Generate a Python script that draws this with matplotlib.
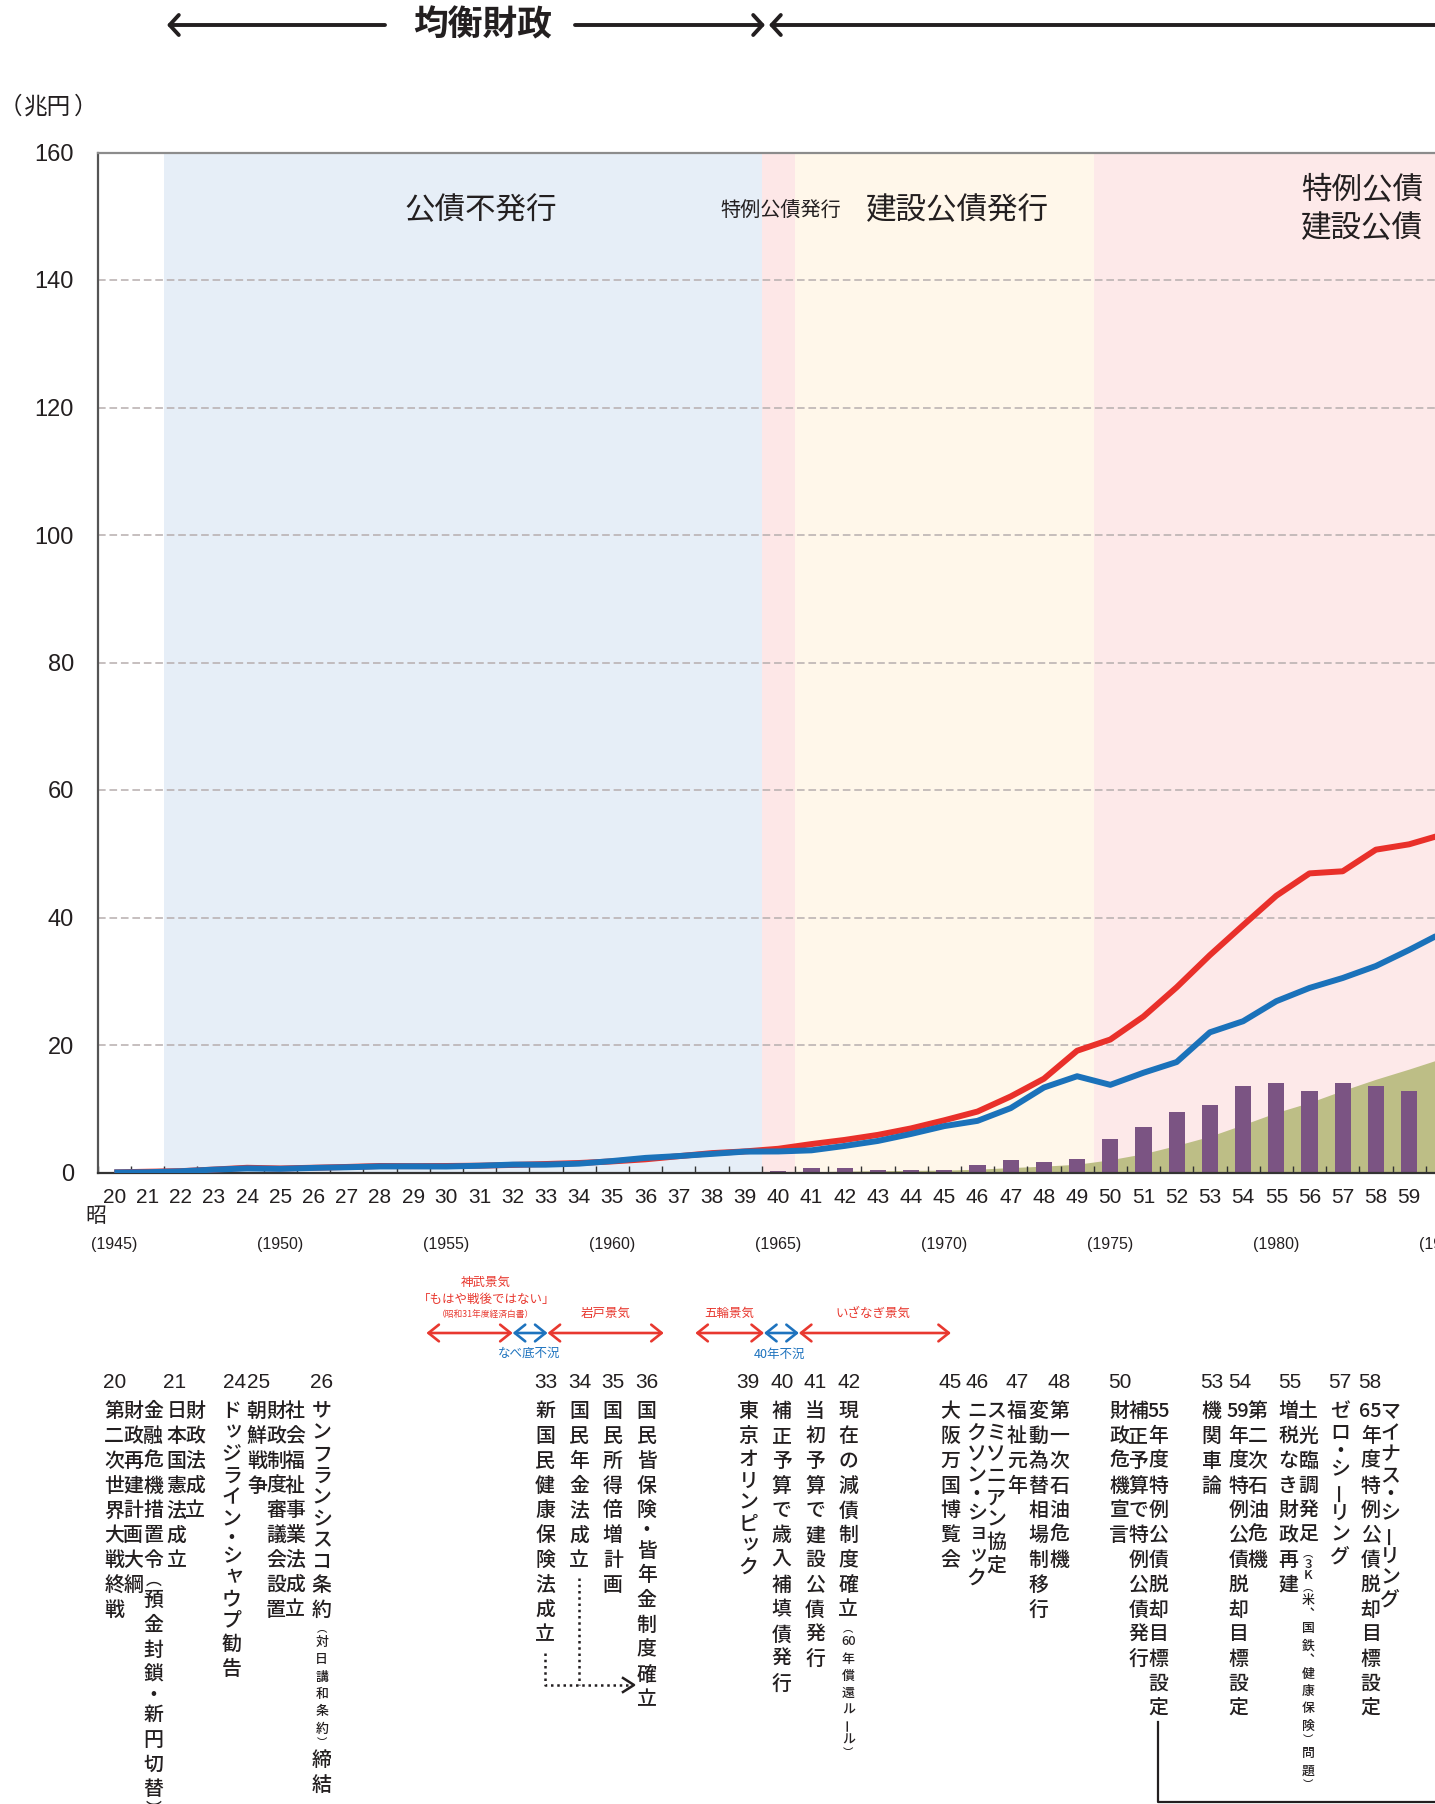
import numpy as np
import matplotlib
matplotlib.use("Agg")
import matplotlib.pyplot as plt
from matplotlib import transforms
from matplotlib.patches import FancyArrowPatch
from matplotlib.lines import Line2D

plt.rcParams["font.family"] = ["Noto Sans CJK JP", "DejaVu Sans"]

# ---------------- data (兆円, 昭和年度) ----------------
years = list(range(20, 61))
expenditure = [0.02, 0.12, 0.21, 0.46, 0.74, 0.63, 0.75, 0.87, 1.02, 1.00,
               1.02, 1.07, 1.19, 1.33, 1.49, 1.74, 2.07, 2.56, 3.04, 3.31,
               3.72, 4.46, 5.11, 5.90, 6.92, 8.19, 9.56, 11.93, 14.71, 19.10,
               20.86, 24.47, 29.06, 34.10, 38.79, 43.41, 46.92, 47.25, 50.64, 51.48,
               53.0]
tax_revenue = [0.01, 0.04, 0.19, 0.45, 0.64, 0.57, 0.72, 0.82, 0.95, 0.96,
               0.94, 1.06, 1.24, 1.23, 1.39, 1.80, 2.29, 2.58, 2.92, 3.28,
               3.30, 3.48, 4.17, 4.95, 6.05, 7.28, 8.10, 10.10, 13.33, 15.10,
               13.75, 15.65, 17.33, 21.99, 23.73, 26.87, 28.95, 30.51, 32.39, 34.91,
               37.6]
bond_years = list(range(40, 60))
bond_issue = [0.2, 0.67, 0.71, 0.46, 0.41, 0.35, 1.1, 1.9, 1.7, 2.1,
              5.2, 7.2, 9.5, 10.6, 13.5, 14.1, 12.8, 14.0, 13.5, 12.8]
debt_years = list(range(40, 61))
debt_outstanding = [0.2, 0.9, 1.6, 2.1, 2.5, 2.8, 3.9, 5.8, 7.5, 9.7,
                    15.0, 22.1, 31.9, 42.6, 56.3, 70.5, 82.3, 96.5, 109.7, 121.7,
                    134.4]
tick_years = list(range(20, 60))
western_pos = [20, 25, 30, 35, 40, 45, 50, 55, 60]
western_labels = ["(1945)", "(1950)", "(1955)", "(1960)", "(1965)", "(1970)",
                  "(1975)", "(1980)", "(1985)"]

period_start = [21.5, 39.5, 40.5, 49.5]
period_end = [39.5, 40.5, 49.5, 62.0]
period_colors = ["#e6eef7", "#fde7e7", "#fff7ea", "#fde9e9"]

boom_names = ["神武景気", "なべ底不況", "岩戸景気", "五輪景気", "40年不況", "いざなぎ景気"]
boom_start = [29.4, 32.0, 33.05, 37.5, 39.57, 40.62]
boom_end = [32.0, 33.05, 36.55, 39.57, 40.62, 45.2]
boom_kind = ["boom", "slump", "boom", "boom", "slump", "boom"]

events = [
    ("20", 114.3, [(114.3, "第二次世界大戦終戦"), (133.3, "財政再建計画大綱"),
                   (153.3, "金融危機措置令（預金封鎖・新円切替）")]),
    ("21", 175.0, [(176.7, "日本国憲法成立"), (195.0, "財政法成立")]),
    ("24", 234.3, [(231.7, "ドッジライン・シャウプ勧告")]),
    ("25", 258.3, [(256.7, "朝鮮戦争"), (276.0, "財政制度審議会設置"), (295.0, "社会福祉事業法成立")]),
    ("26", 321.7, [(321.7, "サンフランシスコ条約{（対日講和条約）}締結")]),
    ("33", 546.0, [(545.0, "新国民健康保険法成立")]),
    ("34", 580.0, [(579.3, "国民年金法成立")]),
    ("35", 613.3, [(612.7, "国民所得倍増計画")]),
    ("36", 647.3, [(646.7, "国民皆保険・皆年金制度確立")]),
    ("39", 748.3, [(748.3, "東京オリンピック")]),
    ("40", 781.7, [(781.7, "補正予算で歳入補填債発行")]),
    ("41", 815.0, [(815.0, "当初予算で建設公債発行")]),
    ("42", 849.3, [(848.3, "現在の減債制度確立{（60年償還ルール）}")]),
    ("45", 950.0, [(950.0, "大阪万国博覧会")]),
    ("46", 976.7, [(976.7, "ニクソン・ショック"), (996.0, "スミソニアン協定")]),
    ("47", 1017.3, [(1016.7, "福祉元年"), (1038.3, "変動為替相場制移行")]),
    ("48", 1059.3, [(1059.3, "第一次石油危機")]),
    ("50", 1120.0, [(1119.3, "財政危機宣言"), (1138.3, "補正予算で特例公債発行"),
                    (1158.3, "55年度特例公債脱却目標設定")]),
    ("53", 1211.7, [(1211.7, "機関車論")]),
    ("54", 1239.3, [(1238.3, "59年度特例公債脱却目標設定"), (1257.7, "第二次石油危機")]),
    ("55", 1290.0, [(1288.3, "増税なき財政再建"),
                    (1308.3, "土光臨調発足{（3K（米、国鉄、健康保険）問題）}")]),
    ("57", 1340.0, [(1340.0, "ゼロ・シーリング")]),
    ("58", 1370.0, [(1370.7, "65年度特例公債脱却目標設定"), (1390.0, "マイナス・シーリング")]),
]

# ---------------- style ----------------
RED = "#e9302a"
BLUE = "#1b72ba"
PURPLE = "#7b5483"
OLIVE = "#bdbe86"
TXT = "#231f20"
RED_T = "#e8382f"
BLUE_T = "#1e73be"
NARROW = ["Liberation Sans Narrow", "Liberation Sans", "DejaVu Sans"]

W, H = 1435, 1804
fig = plt.figure(figsize=(W / 100, H / 100), dpi=100)
fig.patch.set_facecolor("white")

AX_L, AX_T, AX_B = 97.7, 152.5, 1172.5
PX_PER_YEAR = 33.2
x_lo = 19.5
x_hi = x_lo + (W - AX_L) / PX_PER_YEAR

ax = fig.add_axes([AX_L / W, 1 - AX_B / H, (W - AX_L) / W, (AX_B - AX_T) / H])
ax2 = ax.twinx()
ax.set_zorder(ax2.get_zorder() + 1)
ax.patch.set_visible(False)
ax2.patch.set_visible(True)
ax2.patch.set_facecolor("white")

for s, e, c in zip(period_start, period_end, period_colors):
    ax2.axvspan(s, e, color=c, lw=0, zorder=0)
ax2.fill_between(debt_years, 0, debt_outstanding, color=OLIVE, lw=0, zorder=1)
ax2.set_ylim(0, 1200)
for sp in ax2.spines.values():
    sp.set_visible(False)
ax2.tick_params(right=False, labelright=False)

ax.bar(bond_years, bond_issue, width=0.49, color=PURPLE, zorder=2)
ax.plot(years, expenditure, color=RED, lw=4.3, zorder=3,
        solid_joinstyle="round", solid_capstyle="butt")
ax.plot(years, tax_revenue, color=BLUE, lw=4.3, zorder=4,
        solid_joinstyle="round", solid_capstyle="butt")

ax.set_yticks(np.arange(0, 161, 20))
ax.grid(axis="y", ls=(0, (5, 2.5)), color="#b6aeae", lw=1.1)
ax.set_axisbelow(True)

ax.spines["right"].set_visible(False)
ax.spines["top"].set_color("#8c8c8c")
ax.spines["top"].set_linewidth(1.6)
ax.spines["left"].set_color("#555555")
ax.spines["left"].set_linewidth(1.6)
ax.spines["bottom"].set_color("#333333")
ax.spines["bottom"].set_linewidth(1.6)

ax.set_xticks(tick_years)
ax.set_xticklabels([str(y) for y in tick_years], fontfamily=NARROW, fontsize=15, color=TXT)
ax.tick_params(axis="x", which="major", length=0, pad=11)
ax.set_xticks(np.arange(19.5, 60, 1), minor=True)
ax.tick_params(axis="x", which="minor", direction="in", length=5, width=1, color="#333333")
ax.tick_params(axis="y", length=0, pad=17, labelsize=17, labelcolor=TXT)
for t in ax.get_yticklabels():
    t.set_fontfamily(["Liberation Sans", "DejaVu Sans"])

# limits set last (set_xticks may widen them)
ax.set_xlim(x_lo, x_hi)
ax.set_ylim(0, 160)

# ---------------- overlay (pixel coordinates, y downward) ----------------
ov = fig.add_axes([0, 0, 1, 1])
ov.set_xlim(0, W)
ov.set_ylim(H, 0)
ov.axis("off")
ov.patch.set_visible(False)
ov.set_zorder(10)
bx = transforms.blended_transform_factory(ax.transData, ov.transData)

# top arrows / title
for x0, x1 in [(385, 167), (575, 765), (W + 10, 769)]:
    ov.add_patch(FancyArrowPatch((x0, 25), (x1, 25),
                                 arrowstyle="->,head_length=0.33,head_width=0.36",
                                 mutation_scale=20, lw=2.8, color=TXT,
                                 shrinkA=0, shrinkB=0))
ov.text(483, 25, "均衡財政", fontsize=25, fontweight="bold", ha="center", va="center", color=TXT)

ov.text(10, 107, "（", fontsize=17, ha="center", va="center", color=TXT)
ov.text(48, 107, "兆円", fontsize=17, ha="center", va="center", color=TXT)
ov.text(86, 107, "）", fontsize=17, ha="center", va="center", color=TXT)

# period labels
ov.text(481, 211, "公債不発行", fontsize=22, ha="center", va="center", color=TXT)
ov.text(781, 211, "特例公債発行", fontsize=14.5, ha="center", va="center", color=TXT)
ov.text(957, 211, "建設公債発行", fontsize=22, ha="center", va="center", color=TXT)
ov.text(1301, 191, "特例公債", fontsize=22, ha="left", va="center", color=TXT)
ov.text(1301, 229, "建設公債", fontsize=22, ha="left", va="center", color=TXT)

# era marker and western years
ov.text(95.5, 1216, "昭", fontsize=15, ha="center", va="center", color=TXT)
for p, lab in zip(western_pos, western_labels):
    ov.text(p, 1244, lab, transform=bx, fontsize=11.5, fontfamily=NARROW,
            ha="center", va="center", color=TXT)

# business-cycle arrows
BOOM_Y = 1333
for s, e, kind in zip(boom_start, boom_end, boom_kind):
    col = RED_T if kind == "boom" else BLUE_T
    ov.add_patch(FancyArrowPatch((s, BOOM_Y), (e, BOOM_Y), transform=bx,
                                 arrowstyle="<->,head_length=0.75,head_width=0.6",
                                 mutation_scale=10, lw=1.9, color=col,
                                 shrinkA=0, shrinkB=0))
boom_label_xy = [(486, 1282), (529, 1353), (606, 1313), (729, 1313), (780, 1354), (873, 1313)]
for name, kind, (lx, ly) in zip(boom_names, boom_kind, boom_label_xy):
    col = RED_T if kind == "boom" else BLUE_T
    ov.text(lx, ly, name, fontsize=9, ha="center", va="center", color=col)
ov.text(487, 1299, "「もはや戦後ではない」", fontsize=9, ha="center", va="center", color=RED_T)
ov.text(486, 1314, "（昭和31年度経済白書）", fontsize=6.3, ha="center", va="center", color=RED_T)

# ---------------- vertical event texts ----------------
P = 24.8
P_SMALL = 17.3
FS = 14.3
FS_SMALL = 9.3
ROW0 = 1411.7
SMALL_KANA = set("ッャュョァィゥェォっゃゅょ")
VERT = {"（": "︵", "）": "︶", "、": "︑"}


def tokenize(s):
    out = []
    small = False
    i = 0
    while i < len(s):
        c = s[i]
        if c == "{":
            small = True
            i += 1
            continue
        if c == "}":
            small = False
            i += 1
            continue
        if c.isdigit():
            j = i
            while j < len(s) and s[j].isdigit():
                j += 1
            out.append((s[i:j], small))
            i = j
            continue
        out.append((c, small))
        i += 1
    return out


def advance(tok):
    if tok in ("（", "）", "、", "・"):
        return 0.62
    if tok.isdigit():
        return 1.0 if len(tok) > 1 else 0.65
    if tok.isascii():
        return 0.65
    if "\u30a0" <= tok[0] <= "\u30ff":
        return 0.87
    return 1.0


def vcol(x, s):
    y = None
    for tok, small in tokenize(s):
        pitch = P_SMALL if small else P
        fs = FS_SMALL if small else FS
        a = advance(tok) * pitch
        if y is None:
            y = ROW0 - a / 2
        cy = y + a / 2
        y += a
        ch = VERT.get(tok, tok)
        rot = 90 if tok == "ー" else 0
        dx = dy = 0.0
        if tok in SMALL_KANA:
            dx, dy = fs * 0.15, -fs * 0.15
        size = fs * 0.8 if tok in ("（", "）") else fs
        ov.text(x + dx, cy + dy, ch, fontsize=size, ha="center", va="center",
                rotation=rot, color=TXT, fontweight="medium")


for num, nx, cols in events:
    ov.text(nx, 1383, num, fontsize=15, fontfamily=NARROW, ha="center", va="center", color=TXT)
    for cx, text in cols:
        vcol(cx, text)

# connectors
ov.add_line(Line2D([545, 545, 628], [1653, 1685, 1685], ls=(0, (1, 1.5)), lw=1.8, color=TXT))
ov.add_line(Line2D([579.3, 579.3], [1578, 1685], ls=(0, (1, 1.5)), lw=1.8, color=TXT))
ov.add_line(Line2D([623, 634, 623], [1678, 1685, 1692], lw=1.8, color=TXT))
ov.add_line(Line2D([1158.3, 1158.3, W + 5], [1722, 1801.5, 1801.5], lw=1.6, color=TXT))

fig.savefig("out.png", dpi=100)
